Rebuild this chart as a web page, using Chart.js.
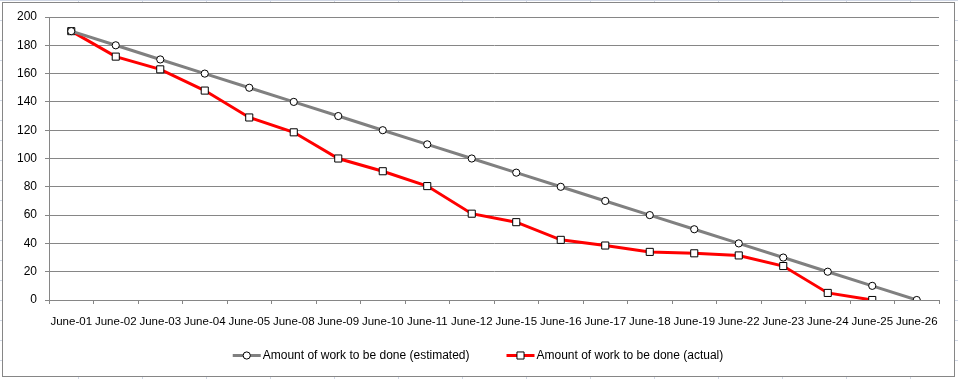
<!DOCTYPE html>
<html><head><meta charset="utf-8">
<script src="https://cdn.jsdelivr.net/npm/chart.js@4/dist/chart.umd.min.js"></script>
<style>html,body{margin:0;padding:0;background:#fff;overflow:hidden}canvas{display:block}</style>
</head><body>
<canvas id="c" width="958" height="379"></canvas>
<script>
const categories = ['June-01','June-02','June-03','June-04','June-05','June-08','June-09','June-10','June-11','June-12','June-15','June-16','June-17','June-18','June-19','June-22','June-23','June-24','June-25','June-26'];
const estimated = [190,180,170,160,150,140,130,120,110,100,90,80,70,60,50,40,30,20,10,0];
const actual = [190,172,163,148,129,118.5,100,91,80.5,61,55,42.5,38.5,34,33,31.5,24,5,0,null];
const seriesNames = ['Amount of work to be done (estimated)','Amount of work to be done (actual)'];
const yMin = 0, yMax = 200, yStep = 20;

const FONT = '"Liberation Sans", Arial, sans-serif';
Chart.defaults.font.family = FONT;
Chart.defaults.font.size = 12;
Chart.defaults.color = '#000';

const bgPlugin = {
  id: 'bg',
  beforeDraw(chart) {
    const ctx = chart.ctx, W = chart.width, H = chart.height;
    ctx.save();
    ctx.fillStyle = '#fff';
    ctx.fillRect(0, 0, W, H);
    ctx.strokeStyle = '#d0d7e5';
    ctx.lineWidth = 1;
    for (let x = 78; x < W; x += 64) { ctx.beginPath(); ctx.moveTo(x + 0.5, 0); ctx.lineTo(x + 0.5, H); ctx.stroke(); }
    for (let y = 0; y < H; y += 20) { ctx.beginPath(); ctx.moveTo(0, y + 0.5); ctx.lineTo(W, y + 0.5); ctx.stroke(); }
    ctx.fillStyle = '#fff';
    ctx.fillRect(2, 2, 953, 375);
    ctx.strokeStyle = '#868686';
    ctx.strokeRect(2.5, 2.5, 952, 374);
    ctx.restore();
  }
};

const legendPlugin = {
  id: 'customLegend',
  afterDraw(chart) {
    const ctx = chart.ctx;
    ctx.save();
    ctx.font = '12px ' + FONT;
    const sample = 28, gapText = 2, gapItem = 37;
    const items = chart.data.datasets.map(ds => ({ ds, w: ctx.measureText(ds.label).width }));
    let total = items.reduce((s, it) => s + sample + gapText + it.w, 0) + gapItem * (items.length - 1);
    let x = 478 - total / 2;
    const y = 355.5;
    items.forEach(it => {
      const ds = it.ds;
      ctx.strokeStyle = ds.borderColor;
      ctx.lineWidth = ds.borderWidth;
      ctx.beginPath(); ctx.moveTo(x, y); ctx.lineTo(x + sample, y); ctx.stroke();
      ctx.fillStyle = ds.pointBackgroundColor;
      ctx.strokeStyle = ds.pointBorderColor;
      ctx.lineWidth = ds.pointBorderWidth;
      Chart.helpers.drawPoint(ctx, { pointStyle: ds.pointStyle, radius: ds.pointRadius, borderWidth: ds.pointBorderWidth, rotation: 0 }, x + sample / 2, y);
      ctx.fillStyle = '#000';
      ctx.textBaseline = 'middle';
      ctx.textAlign = 'left';
      ctx.fillText(ds.label, x + sample + gapText, y);
      x += sample + gapText + it.w + gapItem;
    });
    ctx.restore();
  }
};

new Chart(document.getElementById('c'), {
  type: 'line',
  data: {
    labels: categories,
    datasets: [
      {
        label: seriesNames[0], data: estimated,
        borderColor: '#808080', borderWidth: 3, tension: 0,
        pointStyle: 'circle', pointRadius: 3.6, pointHoverRadius: 3.6,
        pointBackgroundColor: '#fff', pointBorderColor: '#000', pointBorderWidth: 1
      },
      {
        label: seriesNames[1], data: actual,
        borderColor: '#ff0000', borderWidth: 3, tension: 0,
        pointStyle: 'rect', pointRadius: 5, pointHoverRadius: 5,
        pointBackgroundColor: '#fff', pointBorderColor: '#000', pointBorderWidth: 1
      }
    ]
  },
  options: {
    responsive: false,
    animation: false,
    devicePixelRatio: 1,
    layout: { padding: { left: 0, right: 19, top: 17, bottom: 0 } },
    plugins: { legend: { display: false }, tooltip: { enabled: false } },
    events: [],
    scales: {
      x: {
        type: 'category',
        offset: true,
        grid: { offset: true, drawOnChartArea: false, drawTicks: true, tickLength: 4, color: '#868686' },
        border: { color: '#868686' },
        ticks: { autoSkip: false, maxRotation: 0, minRotation: 0, padding: 11, color: '#000', font: { size: 11.5 } },
        afterFit(s) { s.height = 79; }
      },
      y: {
        min: yMin, max: yMax,
        grid: { color: '#868686', tickLength: 4 },
        border: { color: '#868686' },
        ticks: { stepSize: yStep, padding: 8, color: '#000' },
        afterFit(s) { s.width = 49; }
      }
    }
  },
  plugins: [bgPlugin, legendPlugin]
});
</script>
</body></html>
